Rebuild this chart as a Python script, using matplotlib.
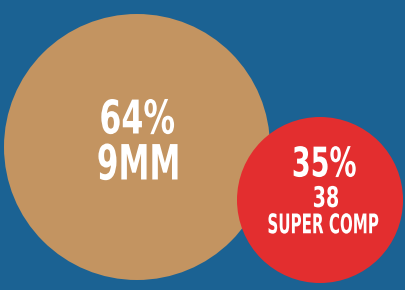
import matplotlib.pyplot as plt
from matplotlib.patches import Circle
from matplotlib.patheffects import AbstractPathEffect
from matplotlib.transforms import Affine2D

# data
shares = [64, 35]
names = ["9MM", "38\nSUPER COMP"]
colors = ["#c39461", "#e32e2f"]

# layout (pixels)
centers = [(137, 147), (320, 200)]
radii = [133, 83]


class Squeeze(AbstractPathEffect):
    """Narrow (and optionally heighten) the glyphs around their centre."""

    def __init__(self, sx, sy=1.0):
        super().__init__()
        self.sx = sx
        self.sy = sy

    def draw_path(self, renderer, gc, tpath, affine, rgbFace=None):
        ext = tpath.get_extents()
        cx = (ext.x0 + ext.x1) / 2
        cy = (ext.y0 + ext.y1) / 2
        t = Affine2D().translate(-cx, -cy).scale(self.sx, self.sy).translate(cx, cy)
        renderer.draw_path(gc, tpath, t + affine, rgbFace)


fig = plt.figure(figsize=(4.05, 2.9), dpi=100)
fig.patch.set_facecolor("#1b6293")
ax = fig.add_axes([0, 0, 1, 1])
ax.set_xlim(0, 405)
ax.set_ylim(290, 0)
ax.set_aspect("equal")
ax.axis("off")

for c, r, col in zip(centers, radii, colors):
    ax.add_patch(Circle(c, r, color=col, lw=0))


def label(x, y, s, size, sx, sy=1.0):
    ax.text(x, y, s, fontsize=size, family="DejaVu Sans", weight="bold",
            color="white", ha="center", va="center",
            path_effects=[Squeeze(sx, sy)])


# big bubble
label(137, 121, f"{shares[0]}%", 33.5, 0.68)
label(139, 165.5, names[0], 35, 0.64)

# small bubble
line1, line2 = names[1].split("\n")
label(324, 165.5, f"{shares[1]}%", 29.5, 0.66)
label(326, 199, line1, 20.5, 0.67)
label(323, 225.5, line2, 16, 0.68, 1.22)

fig.savefig("out.png", dpi=100, facecolor=fig.get_facecolor())
